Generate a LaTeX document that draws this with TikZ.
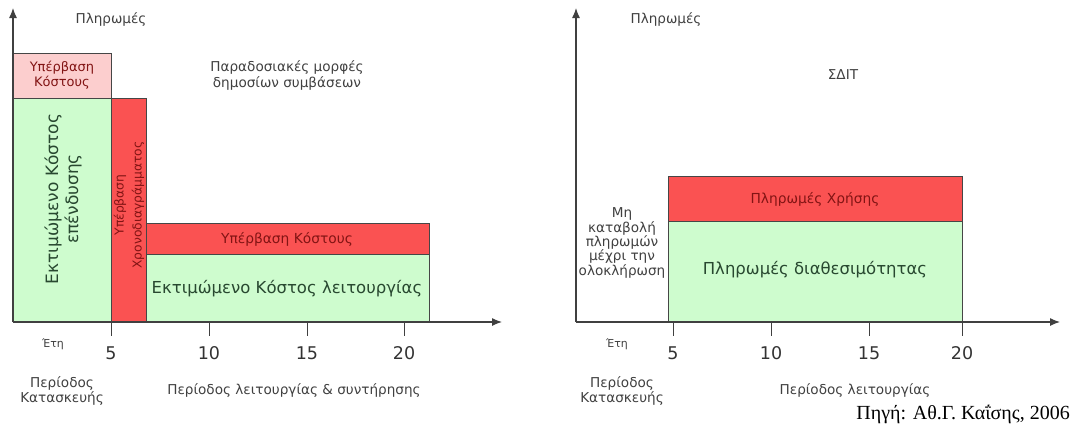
\documentclass[tikz,border=0pt]{standalone}
\usepackage{fontspec}
\setmainfont{DejaVu Sans}
\newfontfamily\srcfont{Liberation Serif}
\usetikzlibrary{arrows.meta}

\definecolor{paleg}{RGB}{206,252,206}
\definecolor{palered}{RGB}{252,206,206}
\definecolor{barred}{RGB}{250,82,82}
\definecolor{inred}{RGB}{130,20,20}
\definecolor{ing}{RGB}{40,72,48}
\definecolor{edge}{RGB}{70,70,70}

\tikzset{
  box/.style={draw=edge, line width=1pt},
  axis/.style={draw=black!75, line width=1.2pt, -{Latex[length=10pt,width=8pt]}},
  tickmark/.style={draw=black!75, line width=1pt},
  lbl/.style={font=\fontsize{13.6}{15.5}\selectfont, text=black!75, align=center, inner sep=0pt},
  num/.style={font=\fontsize{17.5}{19}\selectfont, text=black!80, inner sep=0pt},
  redtxt/.style={font=\fontsize{13.8}{15}\selectfont, text=inred, align=center, inner sep=0pt},
  bigtxt/.style={font=\fontsize{16.5}{20}\selectfont, text=ing, align=center, inner sep=0pt}
}

\begin{document}
\begin{tikzpicture}[x=1pt,y=-1pt]
  \useasboundingbox (0,0) rectangle (1073,437);

  % traditional contracts
  \draw[box, fill=palered] (13,53) rectangle (111,98);
  \draw[box, fill=paleg]   (13,98) rectangle (111,322);
  \draw[box, fill=barred]  (111,98) rectangle (146,322);
  \draw[box, fill=barred]  (146,223) rectangle (429,254);
  \draw[box, fill=paleg]   (146,254) rectangle (429,322);

  \coordinate (o1) at (13,322);
  \coordinate (y1) at (13,8);
  \coordinate (x1) at (502,322);
  \draw[axis] (o1) -- (y1);
  \draw[axis] (o1) -- (x1);

  \node[redtxt, font=\fontsize{13}{14.5}\selectfont] (over1) at (62,75) {Υπέρβαση\\Κόστους};
  \node[bigtxt, rotate=90, font=\fontsize{17}{20}\selectfont] (inv) at (63,199) {Εκτιμώμενο Κόστος\\επένδυσης};
  \node[redtxt, rotate=90, font=\fontsize{12.3}{18}\selectfont] (delay) at (129,205) {Υπέρβαση\\Χρονοδιαγράμματος};
  \node[redtxt] (over2) at (287,239) {Υπέρβαση Κόστους};
  \node[bigtxt] (opcost) at (287,289) {Εκτιμώμενο Κόστος λειτουργίας};

  \node[lbl] (pay1) at (111,19) {Πληρωμές};
  \node[lbl, font=\fontsize{13.6}{16}\selectfont] (title1) at (287,75) {Παραδοσιακές μορφές\\δημοσίων συμβάσεων};
  \foreach \x/\t in {111/5,209/10,307/15,404/20} {
    \draw[tickmark] (\x,322) -- (\x,336);
    \node[num] (a\t) at (\x,353) {\t};
  }
  \node[lbl, font=\fontsize{11}{13}\selectfont] (yr1) at (53,344) {Έτη};
  \node[lbl, font=\fontsize{13.6}{15}\selectfont] (con1) at (62,391) {Περίοδος\\Κατασκευής};
  \node[lbl] (op1) at (294,390) {Περίοδος λειτουργίας \& συντήρησης};

  % PPP
  \draw[box, fill=barred] (668,176) rectangle (962,221);
  \draw[box, fill=paleg]  (668,221) rectangle (962,322);

  \coordinate (o2) at (576,322);
  \coordinate (y2) at (576,8);
  \coordinate (x2) at (1060,322);
  \draw[axis] (o2) -- (y2);
  \draw[axis] (o2) -- (x2);

  \node[redtxt] (use) at (815,199) {Πληρωμές Χρήσης};
  \node[bigtxt] (avail) at (815,270) {Πληρωμές διαθεσιμότητας};
  \node[lbl, font=\fontsize{13.6}{14.3}\selectfont] (nopay) at (622,243) {Μη\\καταβολή\\πληρωμών\\μέχρι την\\ολοκλήρωση};

  \node[lbl] (pay2) at (666,19) {Πληρωμές};
  \node[lbl] (title2) at (843,75) {ΣΔΙΤ};
  \foreach \x/\t in {673/5,771/10,869/15,962/20} {
    \draw[tickmark] (\x,322) -- (\x,336);
    \node[num] (b\t) at (\x,353) {\t};
  }
  \node[lbl, font=\fontsize{11}{13}\selectfont] (yr2) at (617,344) {Έτη};
  \node[lbl, font=\fontsize{13.6}{15}\selectfont] (con2) at (622,391) {Περίοδος\\Κατασκευής};
  \node[lbl] (op2) at (855,390) {Περίοδος λειτουργίας};

  \node[font=\srcfont\fontsize{20}{22}\selectfont, anchor=east, inner sep=0pt] (src) at (1070,414) {Πηγή: Αθ.Γ. Καΐσης, 2006};
\end{tikzpicture}
\end{document}
